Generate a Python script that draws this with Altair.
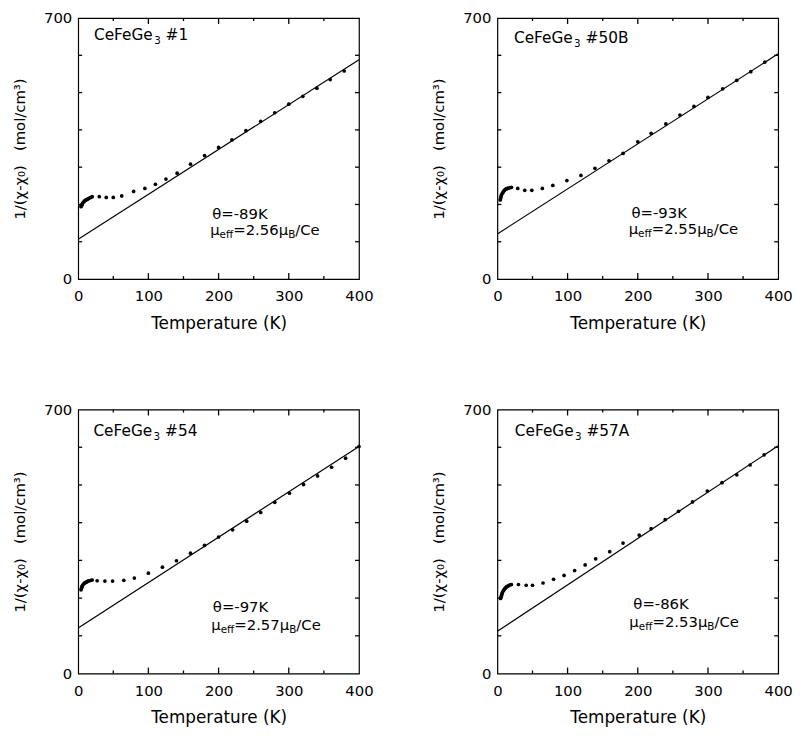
import altair as alt
import pandas as pd

# ---------------- data ----------------
SAMPLES = ["#1", "#50B", "#54", "#57A"]
THETA = ["-89", "-93", "-97", "-86"]
MU_EFF = ["2.56", "2.55", "2.57", "2.53"]

X_TICK_LABELS = [0, 100, 200, 300, 400]
Y_TICK_LABELS = [0, 700]
X_MAJOR_TICKS = [100, 200, 300]
X_MINOR_TICKS = [50, 150, 250, 350]
Y_TICKS = [100, 200, 300, 400, 500, 600]

# Curie-Weiss fit lines: value at T=0 and at T=400
FIT_T = [0, 400]
FIT_1 = [107, 588]
FIT_2 = [121, 604]
FIT_3 = [121, 602]
FIT_4 = [112, 604]

T_1 = [4, 4.5, 5, 5.5, 6, 7, 8, 9, 10, 11, 12, 13, 14, 16, 18, 20,
       30, 40, 50, 62, 79, 95, 110, 125, 141, 160, 180, 200, 219, 239, 260,
       280, 300, 320, 340, 359, 379]
V_1 = [194, 196, 198, 200, 202, 205, 207, 209, 211, 212, 213, 214, 215, 217, 219, 221,
       221, 219, 219, 223, 235, 243, 254, 268, 284, 308, 331, 353, 373, 398, 423,
       446, 469, 490, 512, 535, 558]

T_2 = [4, 4.5, 5, 5.5, 6, 7, 8, 9, 10, 11, 12, 13, 14, 16, 18, 20,
       29, 39, 49, 64, 79, 99, 119, 139, 159, 179, 200, 219, 240, 260, 280,
       300, 321, 341, 361, 381]
V_2 = [212, 216, 220, 223, 226, 230, 233, 236, 238, 240, 241, 242, 243, 244, 245, 246,
       243, 238, 238, 243, 251, 264, 278, 297, 317, 337, 368, 391, 416, 440, 463,
       487, 510, 533, 556, 582]

T_3 = [4, 4.5, 5, 5.5, 6, 7, 8, 9, 10, 11, 12, 13, 14, 16, 18, 20,
       27, 38, 49, 65, 80, 100, 120, 140, 160, 180, 200, 220, 240, 260, 280,
       301, 321, 341, 361, 381, 400]
V_3 = [222, 225, 228, 231, 233, 236, 238, 240, 241, 242, 243, 244, 245, 246, 247, 248,
       246, 245, 245, 247, 253, 266, 282, 299, 319, 340, 362, 381, 404, 427, 454,
       478, 501, 524, 547, 571, 602]

T_4 = [4.5, 5, 5.5, 6, 6.5, 7, 8, 9, 10, 11, 12, 13, 14, 16, 18, 20,
       30, 41, 50, 65, 80, 95, 110, 125, 140, 160, 179, 202, 219, 239, 258,
       278, 299, 320, 341, 360, 380]
V_4 = [199, 202, 205, 208, 211, 214, 218, 221, 224, 226, 228, 230, 231, 233, 235, 236,
       236, 234, 234, 240, 250, 260, 273, 288, 304, 323, 346, 367, 384, 408, 430,
       455, 484, 506, 527, 553, 580]

# annotation anchors in data units (T, value)
LABEL_POS = [(22.5, 641), (23.6, 632), (21.7, 630.5), (24.9, 630.8)]
THETA_POS = [(191, 160), (191, 164), (191.8, 162), (193.7, 171)]
MU_POS = [(188, 117), (187, 121), (189.5, 114.5), (188, 123)]

# ---------------- layout / style ----------------
FONT = "DejaVu Sans"
W_PLOT = 284
H_TOP = 264
H_BOT = 267
NB = "\u00a0"

CHAR_W = {"μ": .635, "e": .615, "f": .352, "=": .838, ".": .318, "/": .337,
          "C": .698, "B": .686, "θ": .612, "-": .361, "K": .656, "F": .575,
          "G": .775, "#": .838, " ": .318, "A": .684}
for d in "0123456789":
    CHAR_W[d] = .636


def tw(s, size):
    return sum(CHAR_W.get(c, .62) for c in s) * size


XS = alt.Scale(domain=[0, 400], nice=False, zero=False)
YS = alt.Scale(domain=[0, 700], nice=False, zero=False)
XAX = alt.Axis(values=X_TICK_LABELS, format="d", title="Temperature (K)",
               labelFlush=False, labelFontSize=15, labelPadding=10,
               titleFontSize=17, titlePadding=12)
YAX = alt.Axis(values=Y_TICK_LABELS, format="d",
               title="1/(χ-χ₀)" + NB * 3 + "(mol/cm³)",
               labelFlush=False, labelFontSize=15, labelPadding=6.5,
               titleFontSize=15, titlePadding=16.5)


def xenc(f):
    return alt.X(f, scale=XS, axis=XAX)


def yenc(f):
    return alt.Y(f, scale=YS, axis=YAX)


def text_seg(t, v, txt, dx, dy, size):
    df = pd.DataFrame({"T": [t], "V": [v]})
    return alt.Chart(df).mark_text(
        text=txt, align="left", baseline="alphabetic", dx=dx, dy=dy,
        fontSize=size, font=FONT, color="black"
    ).encode(x=xenc("T:Q"), y=yenc("V:Q"))


def panel(T, V, fit, sample, theta, mu, lpos, tpos, mpos, h):
    pts = alt.Chart(pd.DataFrame({"T": T, "V": V})).mark_circle(
        size=14, color="black", opacity=1
    ).encode(x=xenc("T:Q"), y=yenc("V:Q"))
    line = alt.Chart(pd.DataFrame({"T": FIT_T, "V": fit})).mark_line(
        color="black", strokeWidth=1.2
    ).encode(x=xenc("T:Q"), y=yenc("V:Q"))

    layers = [pts, line]
    xmaj = pd.DataFrame({"t": X_MAJOR_TICKS})
    xmin = pd.DataFrame({"t": X_MINOR_TICKS})
    yt = pd.DataFrame({"t": Y_TICKS})
    for df, ln in ((xmaj, 6), (xmin, 3)):
        for y0, y1 in ((h, h - ln), (0, ln)):
            layers.append(alt.Chart(df).mark_rule(color="black", strokeWidth=1.3).encode(
                x=xenc("t:Q"), y=alt.value(y0), y2=alt.value(y1)))
    for x0, x1 in ((0, 4), (W_PLOT, W_PLOT - 4)):
        layers.append(alt.Chart(yt).mark_rule(color="black", strokeWidth=1.3).encode(
            y=yenc("t:Q"), x=alt.value(x0), x2=alt.value(x1)))

    # sample label "CeFeGe3 #..."
    big, small = 15.5, 10.5
    lt, lv = lpos
    layers.append(text_seg(lt, lv, "CeFeGe", 0, 0, big))
    d = tw("CeFeGe", big) + 0.5
    layers.append(text_seg(lt, lv, "3", d, 4, small))
    d += tw("3", small) + tw(" ", big)
    layers.append(text_seg(lt, lv, sample, d, 0, big))

    # theta line
    m, s = 15, 10.5
    layers.append(text_seg(tpos[0], tpos[1], "θ=" + theta + "K", 0, 0, m))
    # mu_eff line
    mt, mv = mpos
    d = 0
    for txt, size, dy in (("μ", m, 0), ("eff", s, 3), ("=" + mu, m, 0),
                          ("μ", m, 0), ("B", s, 3), ("/Ce", m, 0)):
        layers.append(text_seg(mt, mv, txt, d, dy, size))
        d += tw(txt, size)
    return alt.layer(*layers).properties(width=W_PLOT, height=h)


p1 = panel(T_1, V_1, FIT_1, SAMPLES[0], THETA[0], MU_EFF[0], LABEL_POS[0], THETA_POS[0], MU_POS[0], H_TOP)
p2 = panel(T_2, V_2, FIT_2, SAMPLES[1], THETA[1], MU_EFF[1], LABEL_POS[1], THETA_POS[1], MU_POS[1], H_TOP)
p3 = panel(T_3, V_3, FIT_3, SAMPLES[2], THETA[2], MU_EFF[2], LABEL_POS[2], THETA_POS[2], MU_POS[2], H_BOT)
p4 = panel(T_4, V_4, FIT_4, SAMPLES[3], THETA[3], MU_EFF[3], LABEL_POS[3], THETA_POS[3], MU_POS[3], H_BOT)

chart = alt.concat(
    p1, p2, p3, p4, columns=2,
    spacing={"row": 132, "column": 140}, bounds="flush"
).properties(
    padding={"left": 3, "top": -2, "right": 0, "bottom": 0}
).configure_view(
    stroke="black", strokeWidth=1.2
).configure_axis(
    grid=False, ticks=False, tickSize=0, domain=False,
    labelFont=FONT, titleFont=FONT, labelColor="black", titleColor="black",
    titleFontWeight="normal"
)

chart.save("out.html", embed_options={"renderer": "svg", "actions": False})
